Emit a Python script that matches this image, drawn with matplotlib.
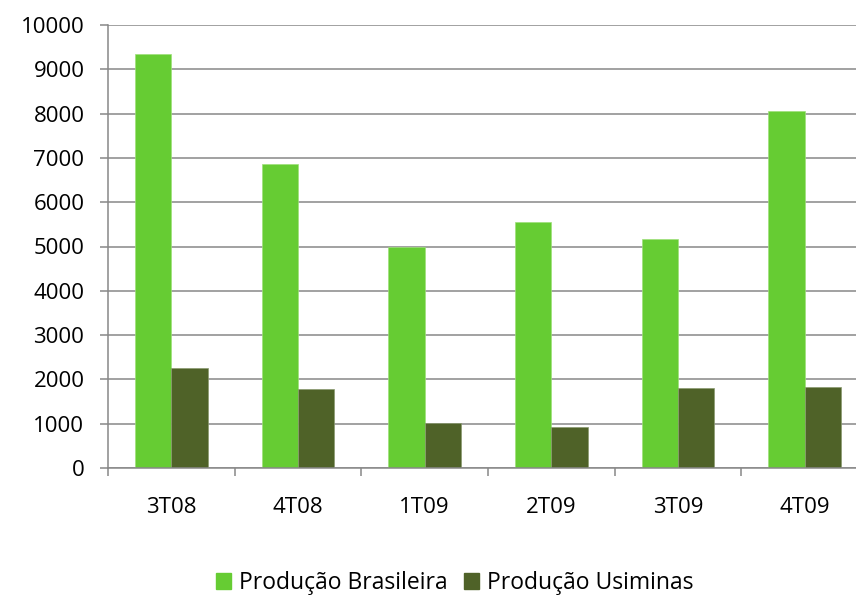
import numpy as np
import matplotlib.pyplot as plt
from matplotlib.patches import Patch

plt.rcParams['font.family'] = ['Open Sans', 'DejaVu Sans']

# dados
trimestres = ["3T08", "4T08", "1T09", "2T09", "3T09", "4T09"]
prod_brasileira = [9350, 6870, 5000, 5560, 5170, 8060]
prod_usiminas = [2250, 1780, 1020, 930, 1810, 1830]

cor_bras = "#66CC33"
cor_usi = "#4F6228"
cinza = "#888888"

W, H = 856, 595
fig = plt.figure(figsize=(W / 100, H / 100), dpi=100)
# eixo vai além da borda direita (como no original, que está cortado)
ax = fig.add_axes([108 / W, (H - 468) / H, (868 - 108) / W, (468 - 25) / H])

x = np.arange(len(trimestres))
w = 36 / 126
ax.bar(x - w / 2, prod_brasileira, w, color=cor_bras, edgecolor="#9FE07A", linewidth=0.5)
ax.bar(x + w / 2, prod_usiminas, w, color=cor_usi, edgecolor="#8A9A70", linewidth=0.5)

ax.set_xlim(-0.5, len(trimestres) - 0.5)
ax.set_ylim(0, 10000)
ax.set_yticks(np.arange(0, 10001, 1000))
ax.yaxis.grid(True, color=cinza, linewidth=1.1)
ax.set_axisbelow(True)

# ticks do eixo x nas divisões das categorias
ax.set_xticks(x)
ax.set_xticklabels(trimestres)
ax.set_xticks(np.arange(-0.5, len(trimestres), 1), minor=True)
ax.tick_params(axis="x", which="major", length=0, pad=21, labelsize=16)
ax.tick_params(axis="x", which="minor", length=6, width=1.1, color=cinza, direction="out")
ax.tick_params(axis="y", length=6, width=1.1, color=cinza, pad=11, labelsize=16)

for lado in ["top", "right"]:
    ax.spines[lado].set_visible(False)
for lado in ["left", "bottom"]:
    ax.spines[lado].set_color(cinza)
    ax.spines[lado].set_linewidth(1.1)

handles = [Patch(color=cor_bras, label="Produção Brasileira"),
           Patch(color=cor_usi, label="Produção Usiminas")]
fig.legend(handles=handles, loc="center", bbox_to_anchor=(455 / W, 1 - 583 / H),
           ncol=2, frameon=False, fontsize=16.5, handlelength=0.65, handleheight=0.65,
           handletextpad=0.35, columnspacing=0.7)

plt.savefig("out.png", dpi=100)
